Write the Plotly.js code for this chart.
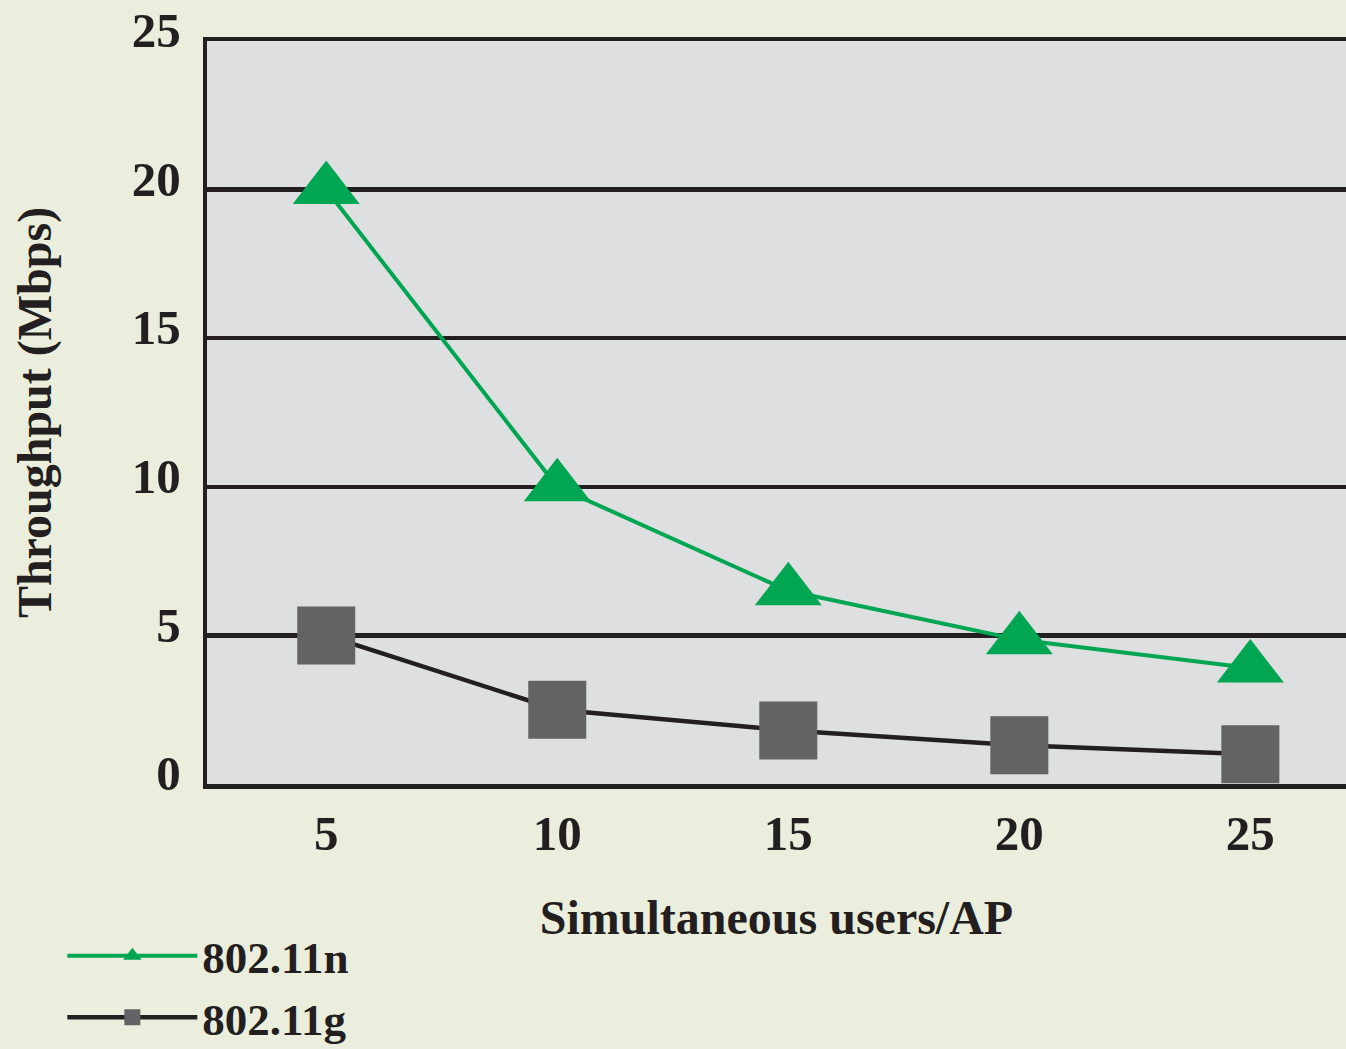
<!DOCTYPE html>
<html>
<head>
<meta charset="utf-8">
<script src="https://cdn.plot.ly/plotly-3.0.1.min.js"></script>
<style>
html,body{margin:0;padding:0;background:#EBEEDD;}
#chart{width:1346px;height:1049px;}
</style>
</head>
<body>
<div id="chart"></div>
<script>
// Data
var users = [5, 10, 15, 20, 25];
var n80211 = [20, 10, 6.5, 4.85, 3.9];
var g80211 = [5, 2.5, 1.8, 1.3, 1.0];
var seriesNames = ['802.11n', '802.11g'];
var yTicks = [0, 5, 10, 15, 20, 25];
var xTicks = [5, 10, 15, 20, 25];

var ink = '#231F20';
var fontFam = '"Liberation Serif", "Times New Roman", serif';

var traces = [
  {
    x: users, y: n80211, name: seriesNames[0], type: 'scatter', mode: 'lines+markers',
    line: {color: '#00A651', width: 4},
    marker: {symbol: 'triangle-up', size: 58, color: '#00A651'}
  },
  {
    x: users, y: g80211, name: seriesNames[1], type: 'scatter', mode: 'lines+markers',
    line: {color: ink, width: 4.5},
    marker: {symbol: 'square', size: 58, color: '#636365'}
  }
];

var layout = {
  width: 1346, height: 1049,
  paper_bgcolor: '#EBEEDD',
  plot_bgcolor: '#DEDFE1',
  margin: {l: 207, r: 0, t: 41, b: 265, autoexpand: false},
  font: {family: fontFam, color: ink, size: 46, weight: 'bold'},
  showlegend: true,
  legend: {
    x: -0.127, xanchor: 'left', y: -0.183, yanchor: 'top',
    bgcolor: 'rgba(0,0,0,0)', borderwidth: 0,
    font: {family: fontFam, size: 45, color: ink, weight: 'bold'},
    itemwidth: 130, tracegroupgap: 0
  },
  xaxis: {
    range: [2.42, 27.07],
    tickvals: xTicks, ticktext: xTicks.map(String),
    showgrid: false, zeroline: false,
    showline: true, linecolor: ink, linewidth: 4.5, mirror: true,
    ticks: '', ticklabelstandoff: 3,
    tickfont: {family: fontFam, size: 49, color: ink, weight: 'bold'},
    title: {text: 'Simultaneous users/AP', standoff: 41,
            font: {family: fontFam, size: 48, color: ink, weight: 'bold'}},
    automargin: false, fixedrange: true
  },
  yaxis: {
    range: [0, 25],
    tickvals: yTicks, ticktext: yTicks.map(String),
    showgrid: true, gridcolor: ink, gridwidth: 4.5,
    zeroline: false,
    showline: true, linecolor: ink, linewidth: 4.5, mirror: false,
    ticks: '', ticklabelstandoff: 12, ticklabelshift: -11,
    tickfont: {family: fontFam, size: 49, color: ink, weight: 'bold'},
    title: {text: 'Throughput (Mbps)', standoff: 66,
            font: {family: fontFam, size: 48, color: ink, weight: 'bold'}},
    automargin: false, fixedrange: true
  }
};

Plotly.newPlot('chart', traces, layout, {displayModeBar: false, staticPlot: true});
</script>
</body>
</html>
